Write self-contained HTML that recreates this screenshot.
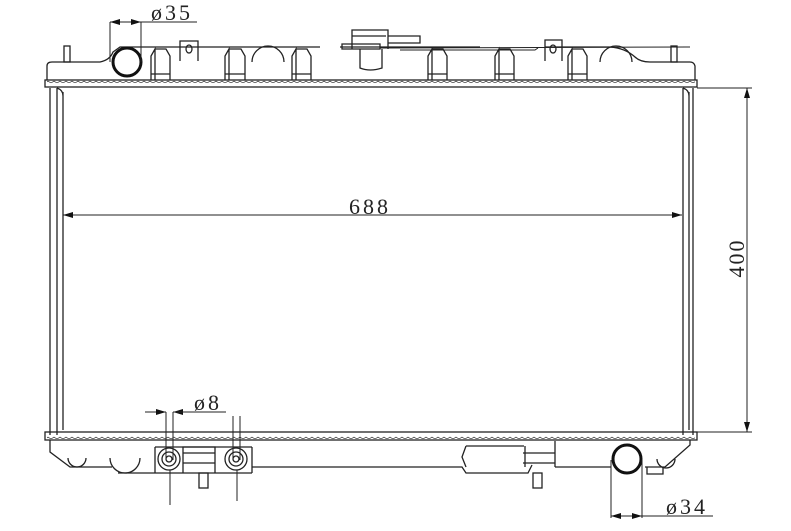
<!DOCTYPE html>
<html><head><meta charset="utf-8"><style>
html,body{margin:0;padding:0;background:#fff;}
svg{display:block}
text{font-family:"Liberation Serif",serif;fill:#222;}
</style></head><body>
<svg width="791" height="531" viewBox="0 0 791 531" xmlns="http://www.w3.org/2000/svg">
<defs>
<marker id="a" viewBox="0 0 10 6" refX="10" refY="3" markerWidth="10" markerHeight="6" orient="auto-start-reverse" markerUnits="userSpaceOnUse"><path d="M0,0L10,3L0,6z" fill="#111"/></marker>
<pattern id="wav" width="6" height="4" patternUnits="userSpaceOnUse"><path d="M0,1 Q3,4 6,1" fill="none" stroke="#333" stroke-width="0.8"/></pattern>
</defs>
<g fill="none" stroke="#222" stroke-width="1.3">
<!-- top tank -->
<path d="M47,80 L47,66 Q47,62 52,62 L100,62 Q110,60 113,52 L120,47 L320,47"/>
<path d="M340,47 L480,47 M545,47 L610,47 Q625,48 635,57 Q640,62 650,62 L690,62 Q694,62 695,66 L695,80"/>
<rect x="45" y="80" width="652" height="7"/>
<rect x="47" y="80" width="648" height="4" fill="url(#wav)" stroke="none"/>
<rect x="64" y="46" width="6" height="16"/>
<rect x="671" y="46" width="6" height="16"/>
<!-- tank ribs -->
<path d="M151,80 L151,56 L155,49 L155,80 M155,49 L166,49 L170,56 L170,80 M151,74 L170,74"/>
<path d="M225,80 L225,56 L229,49 L229,80 M229,49 L241,49 L245,56 L245,80 M225,74 L245,74"/>
<path d="M292,80 L292,56 L296,49 L296,80 M296,49 L307,49 L311,56 L311,80 M292,74 L311,74"/>
<path d="M428,80 L428,56 L432,49 L432,80 M432,49 L443,49 L447,56 L447,80 M428,74 L447,74"/>
<path d="M495,80 L495,56 L499,49 L499,80 M499,49 L510,49 L514,56 L514,80 M495,74 L514,74"/>
<path d="M568,80 L568,56 L572,49 L572,80 M572,49 L583,49 L587,56 L587,80 M568,74 L587,74"/>
<path d="M252,62 A14,14 0 0 1 284,62"/>
<path d="M600,62 A14,14 0 0 1 632,62"/>
<!-- tabs -->
<path d="M180,61 L180,41 L198,41 L198,61"/><ellipse cx="189" cy="49" rx="3" ry="4"/>
<path d="M545,61 L545,40 L562,40 L562,61"/><ellipse cx="553" cy="49" rx="3" ry="4"/>
<!-- cap -->
<path d="M342,49 L342,44 L380,44 L380,49 Z"/>
<path d="M352,49 L352,30 L388,30 L388,49"/>
<path d="M352,36 L386,36 M388,36 L420,36 L420,43 L388,43"/>
<path d="M360,49 L360,68 Q370,72 382,68 L382,49"/>
<path d="M380,48 L690,47" stroke-width="1"/>
<path d="M400,50 L535,50 L538,48" stroke-width="1"/>
<!-- core -->
<path d="M50,88 L50,435 M57,88 L57,435 M63,92 L63,430 M57,88 Q63,90 63,96"/>
<path d="M683,88 L683,435 M693,88 L693,435 M689,92 L689,430 M683,88 Q689,90 689,96"/>
<!-- bottom tank -->
<rect x="45" y="432" width="652" height="8"/>
<rect x="47" y="436" width="648" height="4" fill="url(#wav)" stroke="none"/>
<path d="M50,440 L50,452 L70,467 L112,467 M118,473 L152,473"/>
<path d="M68,458 A9,9 0 0 0 86,458"/>
<path d="M110,458 A15,15 0 0 0 140,458"/>
<path d="M155,447 L252,447 M152,473 L252,473"/>
<path d="M183,473 L183,447 L215,447 L215,473 M183,453 L215,453 M183,463 L215,463"/>
<path d="M252,467 L462,467 L466,473 L528,473 L532,465"/>
<path d="M466,446 L524,446 M466,446 L462,457 L466,467"/>
<path d="M525,446 L525,467 M555,441 L555,467 M523,453 L555,453 M523,463 L555,463"/>
<path d="M555,467 L611,467 M645,467 L665,467 L690,445 L690,440"/>
<path d="M657,459 A8,8 0 0 0 675,459"/>
<path d="M647,467 L647,474 L663,474 L663,467"/>
<rect x="199" y="473" width="9" height="15"/>
<rect x="533" y="473" width="9" height="15"/>
<circle cx="169" cy="459" r="11"/><circle cx="169" cy="459" r="7"/><circle cx="169" cy="459" r="3"/>
<circle cx="236" cy="459" r="11"/><circle cx="236" cy="459" r="7"/><circle cx="236" cy="459" r="3"/>
<path d="M155,447 L155,473 M252,447 L252,473"/>
</g>
<circle cx="127" cy="62" r="14" fill="#fff" stroke="#111" stroke-width="3"/>
<circle cx="627" cy="459" r="14" fill="#fff" stroke="#111" stroke-width="3"/>
<!-- dimensions -->
<g stroke="#222" stroke-width="1" fill="none">
<line x1="110" y1="22" x2="141" y2="22" marker-start="url(#a)" marker-end="url(#a)"/>
<line x1="141" y1="22" x2="197" y2="22"/>
<line x1="110" y1="22" x2="110" y2="62"/><line x1="141" y1="22" x2="141" y2="62"/>
<line x1="63" y1="215" x2="682" y2="215" marker-start="url(#a)" marker-end="url(#a)"/>
<line x1="697" y1="88" x2="752" y2="88"/><line x1="697" y1="432" x2="752" y2="432"/>
<line x1="747" y1="88" x2="747" y2="432" marker-start="url(#a)" marker-end="url(#a)"/>
<line x1="145" y1="412" x2="166" y2="412" marker-end="url(#a)"/>
<line x1="173" y1="412" x2="186" y2="412" marker-start="url(#a)"/>
<line x1="173" y1="412" x2="226" y2="412"/>
<line x1="166" y1="412" x2="166" y2="460"/><line x1="173" y1="412" x2="173" y2="460"/>
<line x1="233" y1="416" x2="233" y2="460"/><line x1="240" y1="416" x2="240" y2="460"/>
<line x1="170" y1="470" x2="170" y2="505"/><line x1="237" y1="470" x2="237" y2="501"/>
<line x1="611" y1="460" x2="611" y2="518"/><line x1="642" y1="460" x2="642" y2="518"/>
<line x1="611" y1="516" x2="642" y2="516" marker-start="url(#a)" marker-end="url(#a)"/>
<line x1="642" y1="516" x2="713" y2="516"/>
</g>
<text x="151" y="20" font-size="22" letter-spacing="3">ø35</text>
<text x="349" y="214" font-size="22" letter-spacing="3">688</text>
<text x="744" y="258" font-size="22" letter-spacing="2" text-anchor="middle" transform="rotate(-90 744 258)">400</text>
<text x="194" y="410" font-size="22" letter-spacing="3">ø8</text>
<text x="666" y="514" font-size="22" letter-spacing="3">ø34</text>
</svg>
</body></html>
